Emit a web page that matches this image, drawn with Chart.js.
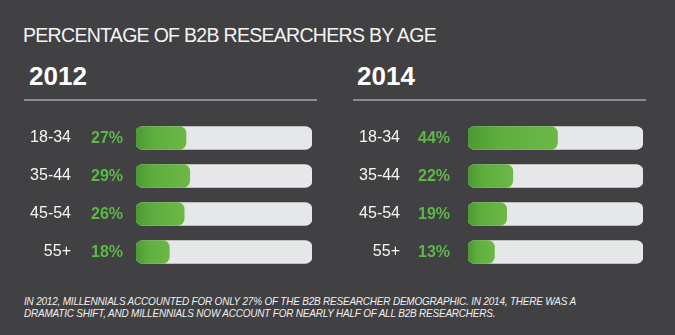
<!DOCTYPE html>
<html>
<head>
<meta charset="utf-8">
<script src="https://cdn.jsdelivr.net/npm/chart.js@4.4.1/dist/chart.umd.min.js"></script>
<style>
  html, body { margin:0; padding:0; }
  body { width:675px; height:335px; background:#414042; position:relative; overflow:hidden; font-family:"Liberation Sans", Arial, sans-serif; }
  .title { position:absolute; left:23px; top:24px; color:#f4f4f4; font-size:19.5px; letter-spacing:-0.7px; white-space:nowrap; }
  .year { position:absolute; top:61px; color:#ffffff; font-size:26px; font-weight:bold; }
  .rule { position:absolute; top:99px; height:2px; background:#8d8d8f; }
  .foot { position:absolute; left:24px; top:296px; color:#f0f0f0; font-size:10.6px; font-style:italic; line-height:11.5px; white-space:nowrap; transform-origin:0 0; transform:scaleX(0.94); letter-spacing:-0.2px; }
  canvas { position:absolute; }
</style>
</head>
<body>
<div class="title">PERCENTAGE OF B2B RESEARCHERS BY AGE</div>
<div class="year" style="left:29px">2012</div>
<div class="rule" style="left:24px;width:293px"></div>
<div class="year" style="left:357px">2014</div>
<div class="rule" style="left:353px;width:293px"></div>
<canvas id="c2012" width="340" height="152" style="left:0;top:119px"></canvas>
<canvas id="c2014" width="335" height="152" style="left:340px;top:119px"></canvas>
<div class="foot">IN 2012, MILLENNIALS ACCOUNTED FOR ONLY 27% OF THE B2B RESEARCHER DEMOGRAPHIC. IN 2014, THERE WAS A<br>DRAMATIC SHIFT, AND MILLENNIALS NOW ACCOUNT FOR NEARLY HALF OF ALL B2B RESEARCHERS.</div>
<script>
const ageGroups = ["18-34", "35-44", "45-54", "55+"];
const values2012 = [27, 29, 26, 18];
const values2014 = [44, 22, 19, 13];

function makeChart(id, values, axisMax, axisWidth, tickPad, pctX, rightPad) {
  const pctPlugin = {
    id: 'pct',
    afterDatasetsDraw(chart) {
      const meta = chart.getDatasetMeta(0);
      const ctx = chart.ctx;
      ctx.save();
      ctx.font = 'bold 16px "Liberation Sans", Arial, sans-serif';
      ctx.fillStyle = '#5cb947';
      ctx.textAlign = 'left';
      ctx.textBaseline = 'middle';
      meta.data.forEach((bar, i) => {
        ctx.fillText(values[i] + '%', pctX, bar.y + 1);
      });
      ctx.restore();
    }
  };
  return new Chart(document.getElementById(id), {
    type: 'bar',
    data: {
      labels: ageGroups,
      datasets: [
        {
          data: values,
          order: 0,
          grouped: false,
          barThickness: 23,
          borderRadius: 7,
          borderSkipped: false,
          backgroundColor: (c) => {
            const chart = c.chart;
            if (!chart.chartArea || c.raw === undefined) return '#62b23f';
            const xs = chart.scales.x;
            const x0 = xs.getPixelForValue(0);
            const x1 = Math.max(xs.getPixelForValue(c.raw), x0 + 1);
            const g = chart.ctx.createLinearGradient(x0, 0, x1, 0);
            g.addColorStop(0, '#4a9a34');
            g.addColorStop(0.35, '#5eae3e');
            g.addColorStop(1, '#6cb845');
            return g;
          }
        },
        {
          data: ageGroups.map(() => axisMax),
          order: 1,
          grouped: false,
          barThickness: 23,
          borderRadius: 7,
          borderSkipped: false,
          backgroundColor: '#e6e7e8'
        }
      ]
    },
    options: {
      indexAxis: 'y',
      responsive: false,
      animation: false,
      devicePixelRatio: 1,
      layout: { padding: { left: 0, right: rightPad, top: 0, bottom: 0 } },
      plugins: { legend: { display: false }, tooltip: { enabled: false } },
      scales: {
        x: { display: false, min: 0, max: axisMax },
        y: {
          grid: { display: false, drawTicks: false },
          border: { display: false },
          ticks: {
            color: '#f6f6f6',
            padding: tickPad,
            font: { family: '"Liberation Sans", Arial, sans-serif', size: 16 }
          },
          afterFit(scale) {
            scale.width = axisWidth;
            scale.paddingTop = 0;
            scale.paddingBottom = 0;
          }
        }
      }
    },
    plugins: [pctPlugin]
  });
}

makeChart('c2012', values2012, 95, 136, 65, 91, 28);
makeChart('c2014', values2014, 86, 128, 68, 78, 32);
</script>
</body>
</html>
